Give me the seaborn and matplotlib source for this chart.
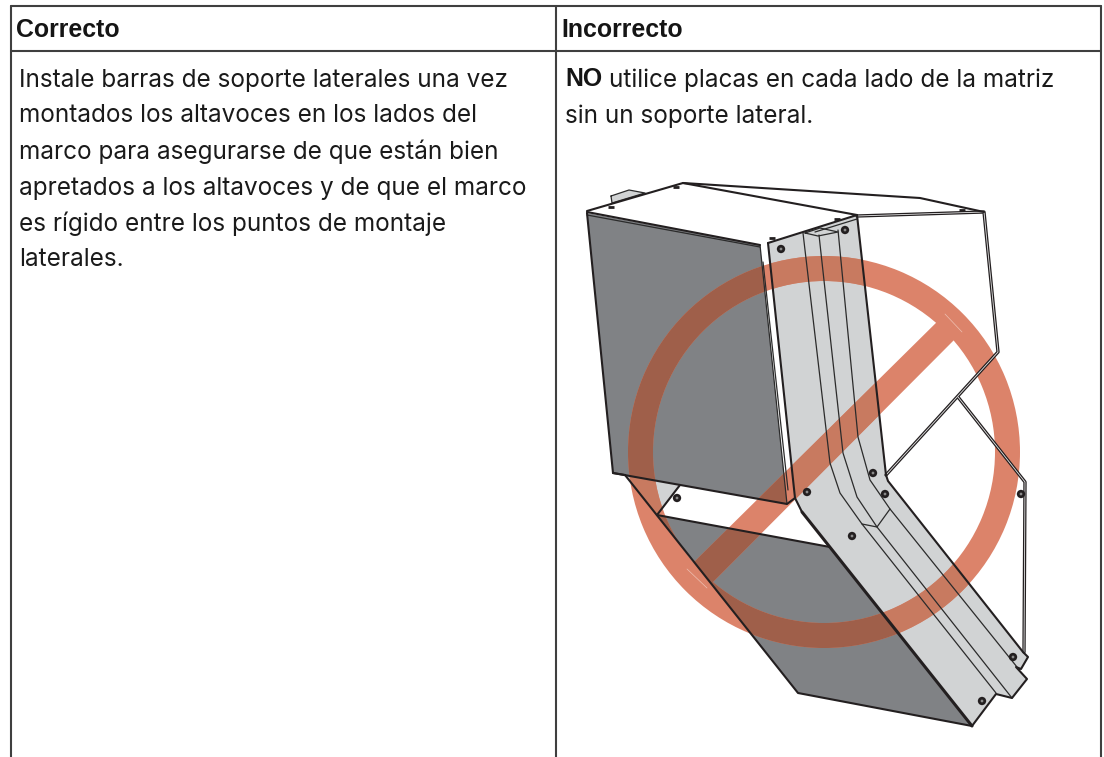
import numpy as np
import pandas as pd
import seaborn as sns
import matplotlib
matplotlib.use("Agg")
import matplotlib.pyplot as plt
from matplotlib.patches import Polygon, Wedge

# ---- text content ----
header_left = "Correcto"
header_right = "Incorrecto"
left_lines = [
    "Instale barras de soporte laterales una vez",
    "montados los altavoces en los lados del",
    "marco para asegurarse de que están bien",
    "apretados a los altavoces y de que el marco",
    "es rígido entre los puntos de montaje",
    "laterales.",
]
right_bold = "NO"
right_line1 = "utilice placas en cada lado de la matriz"
right_line2 = "sin un soporte lateral."

# ---- illustration shapes, traced in image pixels ----
panel_upper = [(587, 213), (760, 245), (787, 504), (613, 473)]
panel_lower = [(657, 515), (830, 547), (972, 726), (798, 693)]
tri_light = [(625, 475), (680, 485), (657, 515)]
plate = [(768, 243), (857, 215), (886, 475), (888, 481), (1023, 652), (1028, 657), (1021, 669),
         (1016, 667), (1027, 679), (1012, 698), (996, 694), (972, 726), (802, 512), (795, 498)]
bracket_a = [(611, 196), (629, 190), (645, 193), (612, 203)]
bracket_b = [(805, 233), (820, 228), (838, 232), (818, 236)]
slash = [(945, 314), (962, 332), (707, 588), (687, 569)]
ring_center = (824, 452)
ring_outer, ring_width = 196, 25

heavy_paths = [
    [(587, 213), (613, 473), (787, 504), (795, 498)],
    [(587, 211), (683, 183), (857, 215), (768, 243)],
    [(587, 212), (760, 245)],
    [(768, 243), (792, 470), (795, 498), (802, 512)],
    [(857, 215), (886, 475), (888, 481), (1023, 652), (1028, 657), (1021, 669), (1016, 667),
     (1027, 679), (1012, 698), (996, 694), (972, 726), (798, 693), (625, 475)],
    [(657, 515), (830, 547)],
    [(657, 515), (680, 485)],
    [(613, 473), (625, 475)],
    [(683, 183), (920, 198), (984, 212)],
]
bold_paths = [
    [(802, 512), (972, 726)],
]
double_paths = [
    [(857, 216), (984, 212), (998, 352), (886, 475)],
    [(958, 397), (1025, 482), (1024, 652)],
]
fold_paths = [
    [(803, 233), (830, 463), (840, 493), (862, 524), (996, 693)],
    [(819, 235), (843, 453), (857, 497), (877, 527), (1012, 698)],
    [(838, 230), (858, 437), (870, 480), (890, 509), (1017, 667)],
    [(862, 524), (877, 527), (890, 509)],
    [(611, 196), (629, 190), (645, 193), (612, 203), (611, 196)],
    [(805, 233), (820, 228), (838, 232), (818, 236), (805, 233)],
    [(760, 245), (787, 504)],
    [(763, 262), (788, 490)],
    [(587, 215), (760, 247)],
    [(815, 232), (857, 219)],
]
screw_x = [781, 845, 807, 873, 885, 852, 1013, 982, 677, 1021]
screw_y = [249, 230, 492, 473, 494, 536, 657, 701, 498, 494]
flat_x = [611, 676, 772, 837, 962]
flat_y = [207, 187, 238, 219, 210]

# ---- table rules ----
table_x = [11, 556, 1101]
table_y = [6, 51, 757]

# ---- colours ----
INK = "#231f20"
RULE = "#3f3f3f"
DARK = "#808285"
LIGHT = "#d1d3d4"
RED = "#dc836a"
RED_ON_DARK = "#9f5f4a"
RED_ON_LIGHT = "#c87a60"

sns.set_theme(style="white")
plt.rcParams["font.family"] = ["Inter", "DejaVu Sans"]

fig = plt.figure(figsize=(11.04, 7.57), dpi=100, facecolor="white")
ax = fig.add_axes([0, 0, 1, 1])
ax.set_xlim(0, 1104)
ax.set_ylim(757, 0)
ax.autoscale(False)
ax.axis("off")


def trace(path, **kw):
    frame = pd.DataFrame(path, columns=["x", "y"])
    sns.lineplot(data=frame, x="x", y="y", sort=False, estimator=None, ax=ax,
                 legend=False, solid_capstyle="round", **kw)


# table rules
for x in table_x:
    trace([(x, table_y[0]), (x, table_y[2])], color=RULE, lw=1.5)
trace([(table_x[0], table_y[0]), (table_x[2], table_y[0])], color=RULE, lw=1.5)
trace([(table_x[0], table_y[1]), (table_x[2], table_y[1])], color=RULE, lw=1.5)

# table text
HEAD = dict(fontsize=17.9, fontweight="bold", family=["Liberation Sans"], color="#151515",
            va="baseline")
TEXT = dict(fontsize=17.5, color="#1a1a1a", va="baseline")
ax.text(16, 37, header_left, **HEAD)
ax.text(561, 37, header_right, **HEAD)
for i, line in enumerate(left_lines):
    ax.text(19, 86.5 + 36 * i, line, **TEXT)
ax.text(565, 86.5, right_bold, **HEAD)
ax.text(609, 86.5, right_line1, **TEXT)
ax.text(565, 122.5, right_line2, **TEXT)

# illustration fills
for pts, col in [(panel_upper, DARK), (panel_lower, DARK), (tri_light, LIGHT), (plate, LIGHT),
                 (bracket_a, LIGHT), (bracket_b, LIGHT)]:
    ax.add_patch(Polygon(pts, closed=True, fc=col, ec="none", zorder=2))

# prohibition sign, with a multiply look where it crosses the fills
ring = Wedge(ring_center, ring_outer, 0, 360, width=ring_width, fc=RED, ec="none", zorder=3)
bar = Polygon(slash, closed=True, fc=RED, ec="none", zorder=3)
ax.add_patch(ring)
ax.add_patch(bar)
for clipper in (ring, bar):
    for pts, col in [(panel_upper, RED_ON_DARK), (panel_lower, RED_ON_DARK),
                     (tri_light, RED_ON_LIGHT), (plate, RED_ON_LIGHT)]:
        piece = Polygon(pts, closed=True, fc=col, ec="none", zorder=4)
        ax.add_patch(piece)
        piece.set_clip_path(clipper)
trace([slash[0], slash[1]], color="#eec0b2", lw=0.5, zorder=4.5)
trace([slash[2], slash[3]], color="#eec0b2", lw=0.5, zorder=4.5)

# illustration lines
for path in double_paths:
    trace(path, color=INK, lw=2.4, zorder=5)
    trace(path, color="#e8e8e8", lw=0.6, zorder=5.1)
for path in fold_paths:
    trace(path, color="#2b2b2b", lw=0.9, zorder=5)
for path in heavy_paths:
    trace(path, color=INK, lw=1.5, zorder=5.2)
for path in bold_paths:
    trace(path, color=INK, lw=2.2, zorder=5.2)

screws = pd.DataFrame({"x": screw_x, "y": screw_y})
flats = pd.DataFrame({"x": flat_x, "y": flat_y})
sns.scatterplot(data=screws, x="x", y="y", s=36, color=INK, edgecolor="none", ax=ax, legend=False, zorder=6)
sns.scatterplot(data=screws, x="x", y="y", s=4, color="#8a8a8a", edgecolor="none", ax=ax, legend=False, zorder=6.1)
sns.scatterplot(data=flats, x="x", y="y", s=22, marker="_", color=INK, linewidth=2, ax=ax, legend=False, zorder=6)

ax.set_xlim(0, 1104)
ax.set_ylim(757, 0)
ax.set_xlabel("")
ax.set_ylabel("")
fig.savefig("out.png", dpi=100, facecolor="white")
